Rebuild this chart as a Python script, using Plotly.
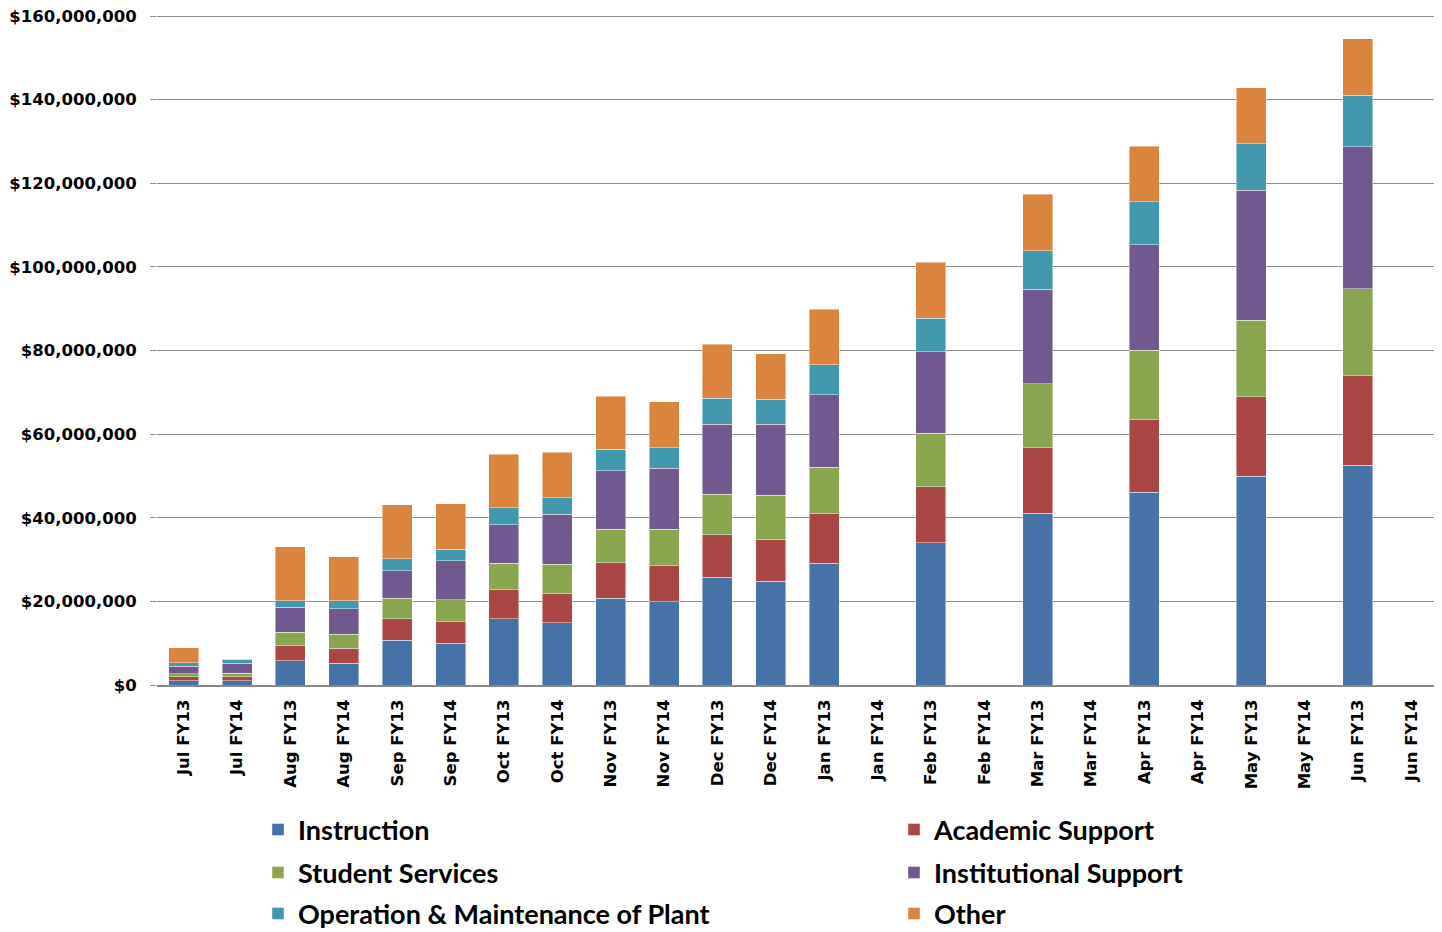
import plotly.graph_objects as go

months = ["Jul FY13", "Jul FY14", "Aug FY13", "Aug FY14", "Sep FY13", "Sep FY14",
          "Oct FY13", "Oct FY14", "Nov FY13", "Nov FY14", "Dec FY13", "Dec FY14",
          "Jan FY13", "Jan FY14", "Feb FY13", "Feb FY14", "Mar FY13", "Mar FY14",
          "Apr FY13", "Apr FY14", "May FY13", "May FY14", "Jun FY13", "Jun FY14"]

# values in millions of dollars
instruction = [1.0, 1.0, 5.8, 5.2, 10.7, 10.0, 15.8, 14.9, 20.7, 19.9, 25.8, 24.8,
               29.1, None, 34.0, None, 41.1, None, 46.1, None, 49.9, None, 52.6, None]
academic = [1.0, 1.0, 3.6, 3.65, 5.2, 5.1, 7.0, 6.9, 8.6, 8.6, 10.1, 10.1,
            11.9, None, 13.4, None, 15.65, None, 17.35, None, 19.0, None, 21.4, None]
student = [0.7, 0.8, 3.2, 3.25, 4.9, 5.3, 6.3, 7.1, 8.0, 8.8, 9.7, 10.5,
           11.1, None, 12.8, None, 15.25, None, 16.65, None, 18.3, None, 20.8, None]
institutional = [1.8, 2.4, 6.0, 6.15, 6.5, 9.3, 9.2, 12.0, 13.95, 14.5, 16.75, 16.95,
                 17.3, None, 19.5, None, 22.7, None, 25.2, None, 31.2, None, 33.9, None]
operation = [0.8, 0.9, 1.6, 1.85, 2.9, 2.8, 4.1, 3.9, 5.15, 4.95, 6.25, 5.95,
             7.2, None, 8.0, None, 9.2, None, 10.3, None, 11.1, None, 12.4, None]
other = [3.6, 0.1, 12.9, 10.6, 12.9, 10.8, 12.8, 10.85, 12.7, 10.95, 12.9, 10.9,
         13.25, None, 13.4, None, 13.45, None, 13.3, None, 13.4, None, 13.5, None]

series = [
    ("Instruction", instruction, "#4572A7", "legend"),
    ("Academic Support", academic, "#AA4643", "legend"),
    ("Student Services", student, "#89A54E", "legend2"),
    ("Institutional Support", institutional, "#71588F", "legend2"),
    ("Operation & Maintenance of Plant", operation, "#4198AF", "legend3"),
    ("Other", other, "#DB843D", "legend3"),
]

fig = go.Figure()
for name, vals, color, lg in series:
    fig.add_trace(go.Bar(
        x=months,
        y=[None if v is None else v * 1e6 for v in vals],
        name=name,
        legend=lg,
        marker=dict(color=color, line=dict(color="rgba(255,255,255,0.55)", width=0.8)),
    ))

W, H = 1434, 924  # page body adds an 8px offset

legend_common = dict(
    orientation="h", xref="container", yref="container",
    x=250 / W, xanchor="left", yanchor="middle",
    entrywidth=591, entrywidthmode="pixels",
    font=dict(family="Lato", size=27, color="black", weight="bold"),
    traceorder="normal", bgcolor="rgba(0,0,0,0)",
)

fig.update_layout(
    barmode="stack",
    bargap=0.44,
    width=W, height=H,
    margin=dict(l=149, r=4, t=6, b=247, autoexpand=False),
    paper_bgcolor="white", plot_bgcolor="white",
    font=dict(family="DejaVu Sans", color="black"),
    showlegend=True,
    legend=dict(legend_common, y=1 - 822 / H),
    legend2=dict(legend_common, y=1 - 865 / H),
    legend3=dict(legend_common, y=1 - 906 / H),
    xaxis=dict(
        tickangle=-90, tickfont=dict(size=16.5, weight="bold", family="DejaVu Sans"),
        showline=True, linecolor="#888888", linewidth=2,
        showgrid=False, ticks="", ticklabelstandoff=6,
    ),
    yaxis=dict(
        range=[0, 160.5e6], tick0=0, dtick=20e6,
        tickprefix="$", showtickprefix="all", tickformat=",d", ticklabeloverflow="allow",
        tickfont=dict(size=16.5, weight="bold", family="DejaVu Sans"),
        showgrid=True, gridcolor="#8c8c8c", gridwidth=1.2,
        ticks="outside", ticklen=6, tickcolor="#8c8c8c",
        ticklabelstandoff=10,
        zeroline=False, showline=False,
    ),
)

fig.write_html("out.html")
